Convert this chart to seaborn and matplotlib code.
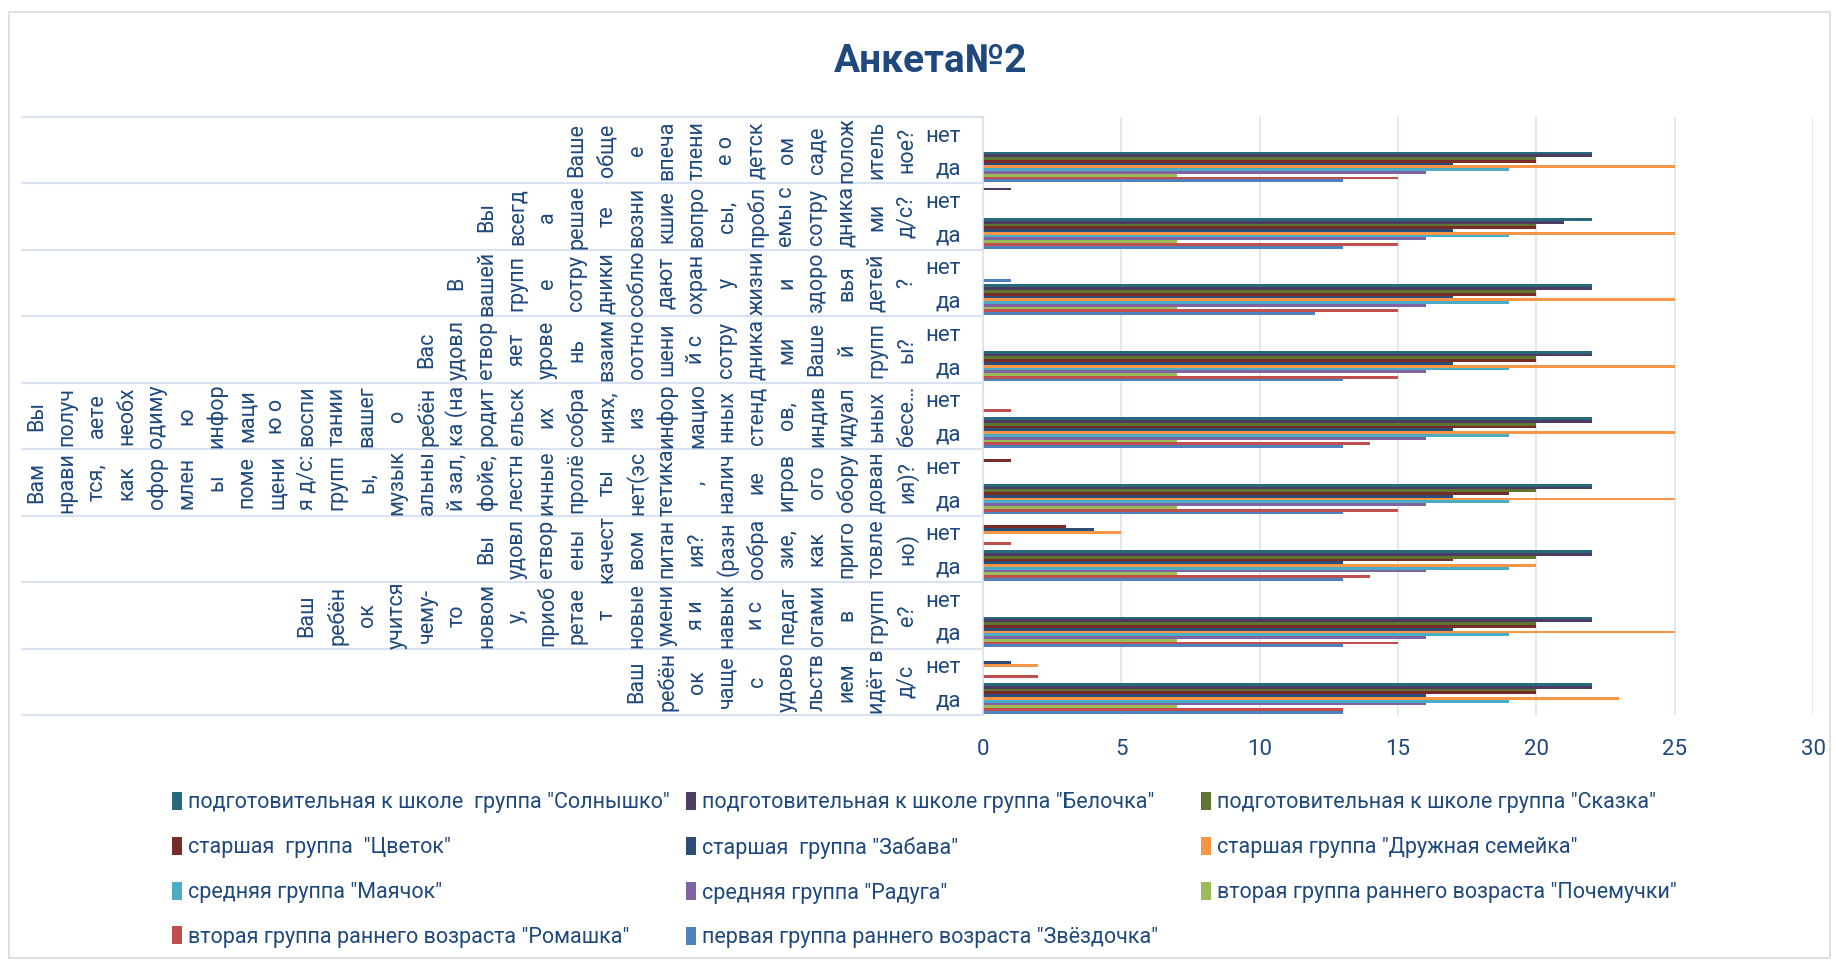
import numpy as np
import pandas as pd
import matplotlib
matplotlib.use("Agg")
import matplotlib.pyplot as plt
import matplotlib.transforms as mtransforms
from matplotlib.patches import Rectangle
import seaborn as sns

# ---- data ----
title = "Анкета№2"
answers = ["нет", "да"]

# questions top to bottom, split into the narrow lines Excel wrapped them into
questions = [
    ["Ваше", "обще", "е", "впеча", "тлени", "е о", "детск", "ом", "саде", "полож", "итель", "ное?"],
    ["Вы", "всегд", "а", "решае", "те", "возни", "кшие", "вопро", "сы,", "пробл", "емы с", "сотру",
     "дника", "ми", "д/с?"],
    ["В", "вашей", "групп", "е", "сотру", "дники", "соблю", "дают", "охран", "у", "жизни", "и",
     "здоро", "вья", "детей", "?"],
    ["Вас", "удовл", "етвор", "яет", "урове", "нь", "взаим", "оотно", "шени", "й с", "сотру", "дника",
     "ми", "Ваше", "й", "групп", "ы?"],
    ["Вы", "получ", "аете", "необх", "одиму", "ю", "инфор", "маци", "ю о", "воспи", "тании", "вашег",
     "о", "ребён", "ка (на", "родит", "ельск", "их", "собра", "ниях,", "из", "инфор", "мацио", "нных",
     "стенд", "ов,", "индив", "идуал", "ьных", "бесе…"],
    ["Вам", "нрави", "тся,", "как", "офор", "млен", "ы", "поме", "щени", "я д/с:", "групп", "ы,",
     "музык", "альны", "й зал,", "фойе,", "лестн", "ичные", "пролё", "ты", "нет(эс", "тетика", ",",
     "налич", "ие", "игров", "ого", "обору", "дован", "ия)?"],
    ["Вы", "удовл", "етвор", "ены", "качест", "вом", "питан", "ия?", "(разн", "ообра", "зие,", "как",
     "приго", "товле", "но)"],
    ["Ваш", "ребён", "ок", "учится", "чему-", "то", "новом", "у,", "приоб", "ретае", "т", "новые",
     "умени", "я и", "навык", "и с", "педаг", "огами", "в", "групп", "е?"],
    ["Ваш", "ребён", "ок", "чаще", "с", "удово", "льств", "ием", "идёт в", "д/с"],
]

series = [
    'подготовительная к школе  группа "Солнышко"',
    'подготовительная к школе группа "Белочка"',
    'подготовительная к школе группа "Сказка"',
    'старшая  группа  "Цветок"',
    'старшая  группа "Забава"',
    'старшая группа "Дружная семейка"',
    'средняя группа "Маячок"',
    'средняя группа "Радуга"',
    'вторая группа раннего возраста "Почемучки"',
    'вторая группа раннего возраста "Ромашка"',
    'первая группа раннего возраста "Звёздочка"',
]
colors = ["#276A7C", "#4D3B62", "#5F7530", "#772C2A", "#2C4D75", "#F79646",
          "#4BACC6", "#8064A2", "#9BBB59", "#C0504D", "#4F81BD"]

# values per question top to bottom, (нет, да) pairs
solnyshko = [0, 22, 0, 22, 0, 22, 0, 22, 0, 22, 0, 22, 0, 22, 0, 22, 0, 22]
belochka = [0, 22, 1, 21, 0, 22, 0, 22, 0, 22, 0, 22, 0, 22, 0, 22, 0, 22]
skazka = [0, 20, 0, 20, 0, 20, 0, 20, 0, 20, 0, 20, 0, 20, 0, 20, 0, 20]
cvetok = [0, 20, 0, 20, 0, 20, 0, 20, 0, 20, 1, 19, 3, 17, 0, 20, 0, 20]
zabava = [0, 17, 0, 17, 0, 17, 0, 17, 0, 17, 0, 17, 4, 13, 0, 17, 1, 16]
druzhnaya = [0, 25, 0, 25, 0, 25, 0, 25, 0, 25, 0, 25, 5, 20, 0, 25, 2, 23]
mayachok = [0, 19, 0, 19, 0, 19, 0, 19, 0, 19, 0, 19, 0, 19, 0, 19, 0, 19]
raduga = [0, 16, 0, 16, 0, 16, 0, 16, 0, 16, 0, 16, 0, 16, 0, 16, 0, 16]
pochemuchki = [0, 7, 0, 7, 0, 7, 0, 7, 0, 7, 0, 7, 0, 7, 0, 7, 0, 7]
romashka = [0, 15, 0, 15, 0, 15, 0, 15, 1, 14, 0, 15, 1, 14, 0, 15, 2, 13]
zvezdochka = [0, 13, 0, 13, 1, 12, 0, 13, 0, 13, 0, 13, 0, 13, 0, 13, 0, 13]

all_values = [solnyshko, belochka, skazka, cvetok, zabava, druzhnaya,
              mayachok, raduga, pochemuchki, romashka, zvezdochka]

# ---- long table for seaborn ----
cat_keys = [f"{q}-{a}" for q in range(len(questions)) for a in answers]
rows = []
for name, vals in zip(series, all_values):
    for key, v in zip(cat_keys, vals):
        rows.append({"cat": key, "group": name, "value": v})
df = pd.DataFrame(rows)

sns.set_style("white")
plt.rcParams["font.family"] = ["Roboto", "DejaVu Sans"]
text_color = "#1F497D"
grid_color = "#D9E2F1"

W, H = 1836, 963
fig = plt.figure(figsize=(W / 100, H / 100), dpi=100)
ax = fig.add_axes([983 / W, 1 - 715 / H, (1813 - 983) / W, (715 - 117) / H])

sns.barplot(data=df, x="value", y="cat", hue="group", order=cat_keys, hue_order=series,
            palette=colors, orient="h", width=0.92, saturation=1, errorbar=None,
            linewidth=0, ax=ax)

handles, labels = ax.get_legend_handles_labels()
ax.get_legend().remove()

ax.set_xticks(range(0, 31, 5))
ax.set_yticks(range(len(cat_keys)))
ax.set_yticklabels(answers * len(questions))
ax.set_xlabel("")
ax.set_ylabel("")
ax.tick_params(axis="both", length=0, labelsize=16, labelcolor=text_color)
ax.tick_params(axis="y", pad=16)
ax.tick_params(axis="x", pad=17)
ax.grid(axis="x", color=grid_color, linewidth=1.1)
ax.set_axisbelow(True)
for s in ["top", "right", "bottom"]:
    ax.spines[s].set_visible(False)
ax.spines["left"].set_color(grid_color)
ax.spines["left"].set_linewidth(1.1)

# category dividers across the label area
trans = mtransforms.blended_transform_factory(ax.transAxes, ax.transData)
x_left = (22 - 983) / (1813 - 983)
for b in range(len(questions) + 1):
    ax.plot([x_left, 0], [2 * b - 0.5, 2 * b - 0.5], color=grid_color, linewidth=1.5,
            transform=trans, clip_on=False)

ax.set_xlim(0, 30)
ax.set_ylim(len(cat_keys) - 0.5, -0.5)

# rotated, wrapped question labels
ftrans = mtransforms.blended_transform_factory(fig.transFigure, ax.transData)
right_col = 907
pitch = 30
for q, lines in enumerate(questions):
    n = len(lines)
    for j, line in enumerate(lines):
        x = right_col - (n - 1 - j) * pitch
        ax.text(x / W, 2 * q + 0.5, line, rotation=90, ha="center", va="center",
                fontsize=15.5, color=text_color, transform=ftrans, clip_on=False)

fig.text(931 / W, 1 - 62 / H, title, ha="center", va="center", fontsize=28,
         fontweight="bold", color=text_color)

# legend: three equal-width columns like Excel, filled row by row
col_x = [172, 686, 1201]
for c in range(3):
    idx = list(range(c, len(series), 3))
    leg = fig.legend([handles[i] for i in idx], [labels[i] for i in idx],
                     loc="upper left", bbox_to_anchor=(col_x[c] / W, 1 - 792 / H),
                     frameon=False, fontsize=15.5, handlelength=0.45, handleheight=0.9,
                     handletextpad=0.3, labelspacing=1.09, borderpad=0, borderaxespad=0)
    for t in leg.get_texts():
        t.set_color(text_color)

fig.add_artist(Rectangle((9 / W, 1 - 958 / H), (1830 - 9) / W, (958 - 12) / H,
                         transform=fig.transFigure, fill=False, edgecolor="#D9D9D9",
                         linewidth=1.2))

fig.savefig("out.png", dpi=100)
